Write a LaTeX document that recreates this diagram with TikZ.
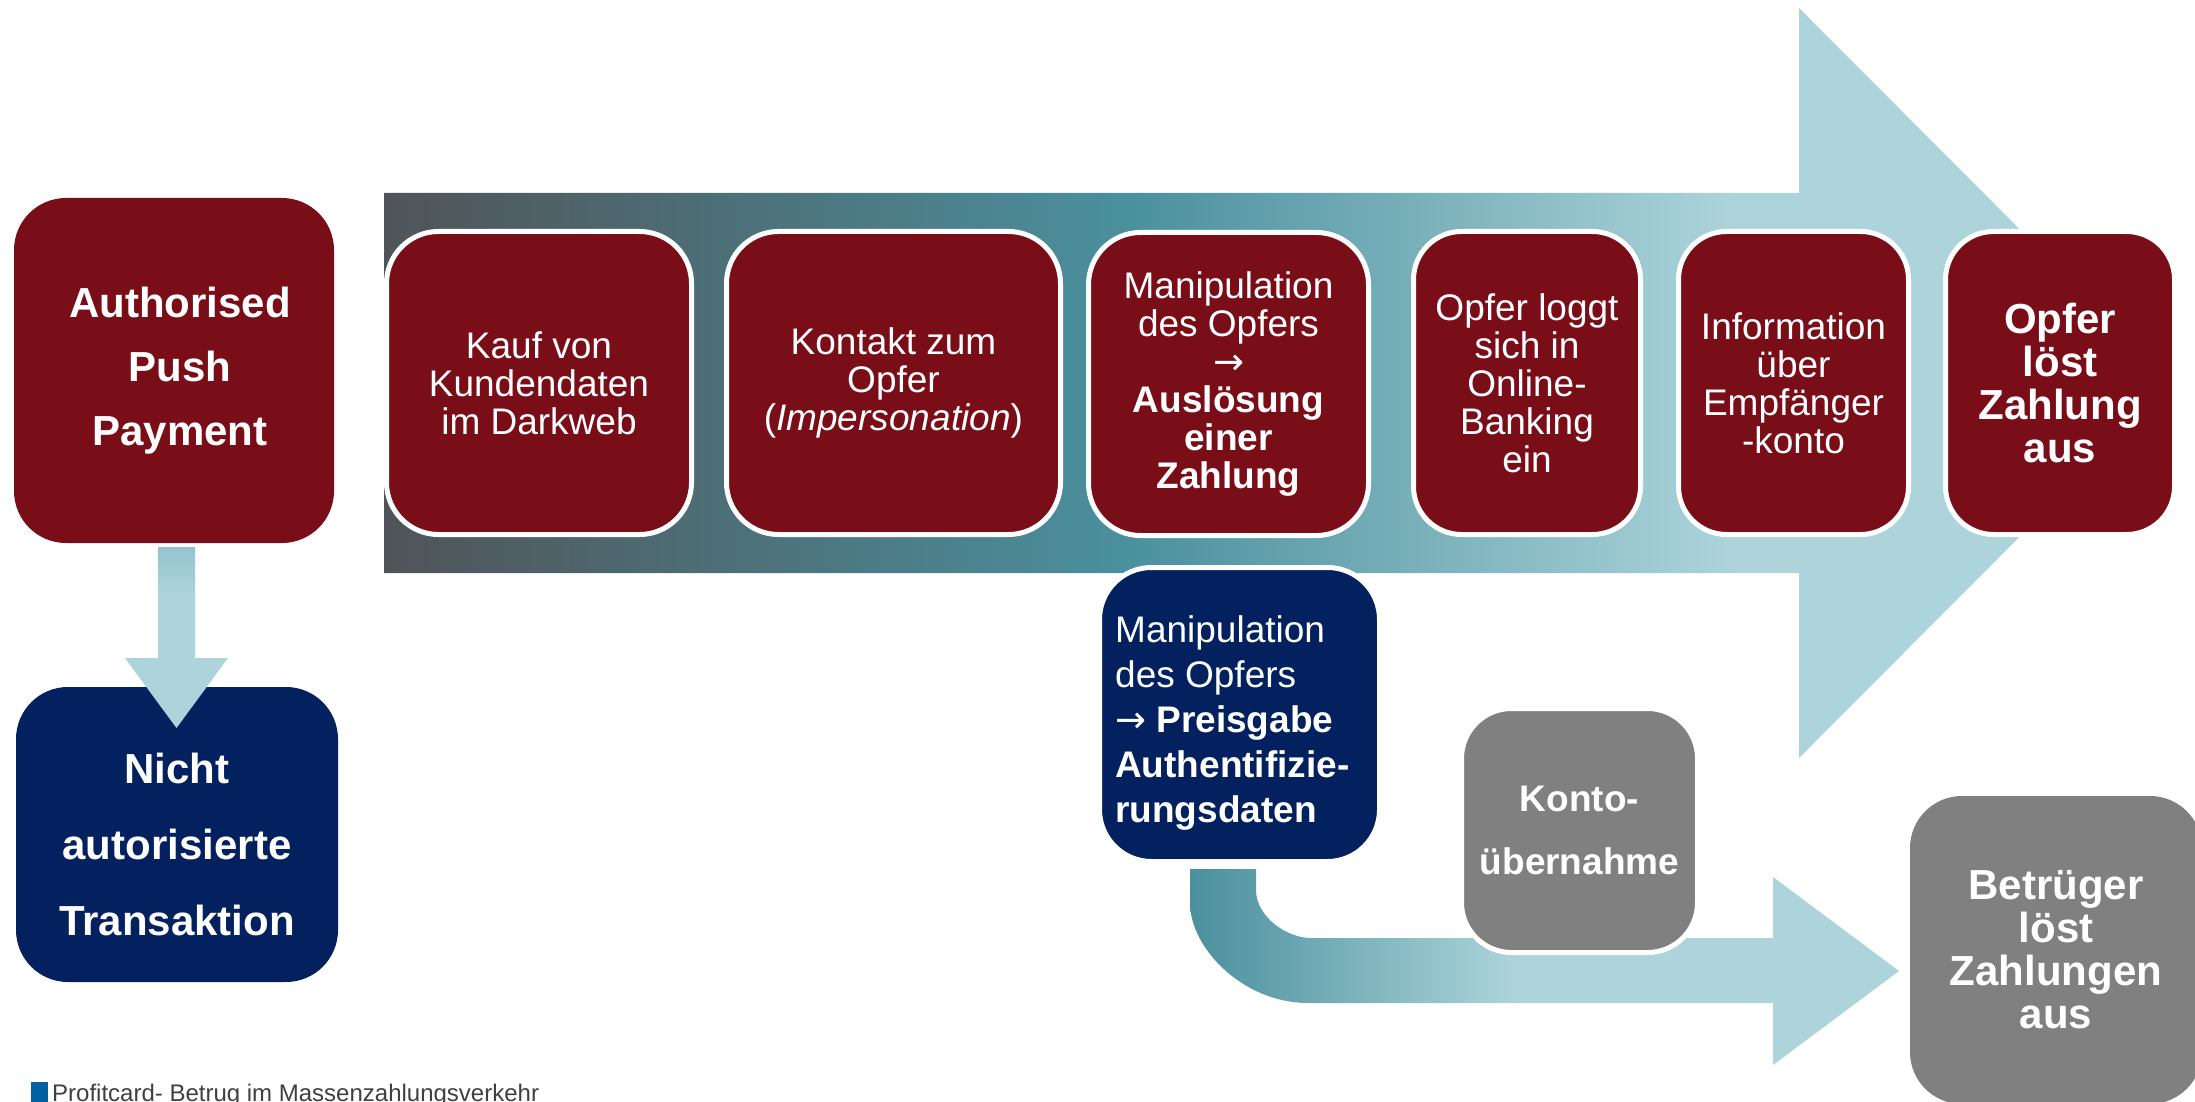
\documentclass[tikz,border=0pt]{standalone}
\usepackage{fontspec}
\setmainfont{Liberation Sans}
\newfontfamily\arrowfont{DejaVu Sans}
\newcommand{\rarr}{{\arrowfont →}}
\definecolor{cred}{HTML}{7A0E18}
\definecolor{cnavy}{HTML}{03215F}
\definecolor{cgrey}{HTML}{808080}
\definecolor{clight}{HTML}{ADD4DA}
\definecolor{cmid}{HTML}{94C3CC}
\definecolor{cteal}{HTML}{4A909D}
\definecolor{cdark}{HTML}{505458}
\definecolor{cblue}{HTML}{0060A0}
\definecolor{cfoot}{HTML}{404040}
\pgfdeclarehorizontalshading{mainshade}{100bp}{color(0bp)=(cdark); color(25bp)=(cdark); color(45.8bp)=(cteal); color(62.8bp)=(clight); color(100bp)=(clight)}
\pgfdeclarehorizontalshading{bentshade}{100bp}{color(0bp)=(cteal); color(25bp)=(cteal); color(48bp)=(clight); color(100bp)=(clight)}
\pgfdeclareverticalshading{downshade}{100bp}{color(0bp)=(clight); color(62bp)=(clight); color(75bp)=(cmid); color(100bp)=(cmid)}
\begin{document}
\begin{tikzpicture}[x=1pt,y=-1pt,
  boxbase/.style={rounded corners=52pt, text=white, inner sep=0pt, align=center},
  redbox/.style={boxbase, fill=cred, draw=white, line width=5pt, minimum height=303pt},
  regtext/.style={font=\fontsize{37}{38}\selectfont},
  boldtext/.style={font=\fontsize{42}{43}\selectfont\bfseries},
  plaintext/.style={text=white, inner sep=0pt}]
\useasboundingbox (0,0) rectangle (2195,1102);
\fill[white] (0,0) rectangle (2195,1102);

% main block arrow
\shade[shading=mainshade] (384,193) -- (1799,193) -- (1799,8) -- (2173,383)
  -- (1799,758) -- (1799,573) -- (384,573) -- cycle;

% top row
\node[boxbase, fill=cred, minimum width=320pt, minimum height=345pt,
  font=\fontsize{42}{64}\selectfont\bfseries] (apr) at (174,370.5)
  {\hspace*{12pt}Authorised\\\hspace*{12pt}Push\\\hspace*{12pt}Payment};
\node[redbox, regtext, minimum width=305pt] (kauf) at (539,383)
  {Kauf von\\Kundendaten\\im Darkweb};
\node[redbox, regtext, minimum width=334pt] (kontakt) at (893.5,383)
  {Kontakt zum\\Opfer\\(\textit{Impersonation})};
\node[redbox, regtext, minimum width=280pt] (manip) at (1228.5,384)
  {Manipulation\\des Opfers\\\rarr\\\textbf{Auslösung}\\\textbf{einer}\\\textbf{Zahlung}};
\node[redbox, regtext, minimum width=227pt, rounded corners=48pt] (login) at (1527,383)
  {Opfer loggt\\sich in\\Online-\\Banking\\ein};
\node[redbox, regtext, minimum width=230pt, rounded corners=48pt] (info) at (1793.5,383)
  {Information\\über\\Empfänger\\-konto};
\node[redbox, boldtext, minimum width=229pt, rounded corners=48pt] (pay) at (2060,383)
  {Opfer\\löst\\Zahlung\\aus};

% left column
\node[boxbase, fill=cnavy, minimum width=322pt, minimum height=295pt] (unauth) at (177,834.5) {};
\node[plaintext, align=center, font=\fontsize{42}{76}\selectfont\bfseries]
  (unauthtext) at ([yshift=-10pt]unauth.center) {Nicht\\autorisierte\\Transaktion};
\shade[shading=downshade] (158,547) -- (195,547) -- (195,658) -- (228,658)
  -- (176.5,728) -- (125,658) -- (158,658) -- cycle;

% lower branch
\node[boxbase, fill=cnavy, draw=white, line width=5pt, minimum width=280pt,
  minimum height=294pt] (reveal) at (1239.5,714.5) {};
\node[plaintext, align=left, font=\fontsize{37}{45}\selectfont, anchor=west]
  (revealtext) at ([xshift=18pt,yshift=-9pt]reveal.west)
  {Manipulation\\des Opfers\\\rarr{} \textbf{Preisgabe}\\\textbf{Authentifizie-}\\\textbf{rungsdaten}};
\shade[shading=bentshade] (1190,869) -- (1256,869) -- (1256,890)
  .. controls (1256,916.5) and (1286.4,938) .. (1311,938)
  -- (1773,938) -- (1773,877) -- (1899,971) -- (1773,1065) -- (1773,1003)
  -- (1308,1003) .. controls (1242.9,1003) and (1190,947.8) .. (1190,903) -- cycle;
\node[boxbase, fill=cgrey, draw=white, line width=5pt, minimum width=236pt,
  minimum height=244pt, rounded corners=50pt,
  font=\fontsize{37}{63}\selectfont\bfseries] (takeover) at (1579.5,830.5)
  {Konto-\\übernahme};
\node[boxbase, fill=cgrey, minimum width=292pt, minimum height=308pt,
  boldtext] (fraud) at (2056,950)
  {Betrüger\\löst\\Zahlungen\\aus};

% footer
\fill[cblue] (31,1082) rectangle (48,1110);
\node[anchor=base west, inner sep=0pt, text=cfoot, font=\fontsize{24}{24}\selectfont]
  (footer) at (52,1101) {Profitcard- Betrug im Massenzahlungsverkehr};
\end{tikzpicture}
\end{document}
